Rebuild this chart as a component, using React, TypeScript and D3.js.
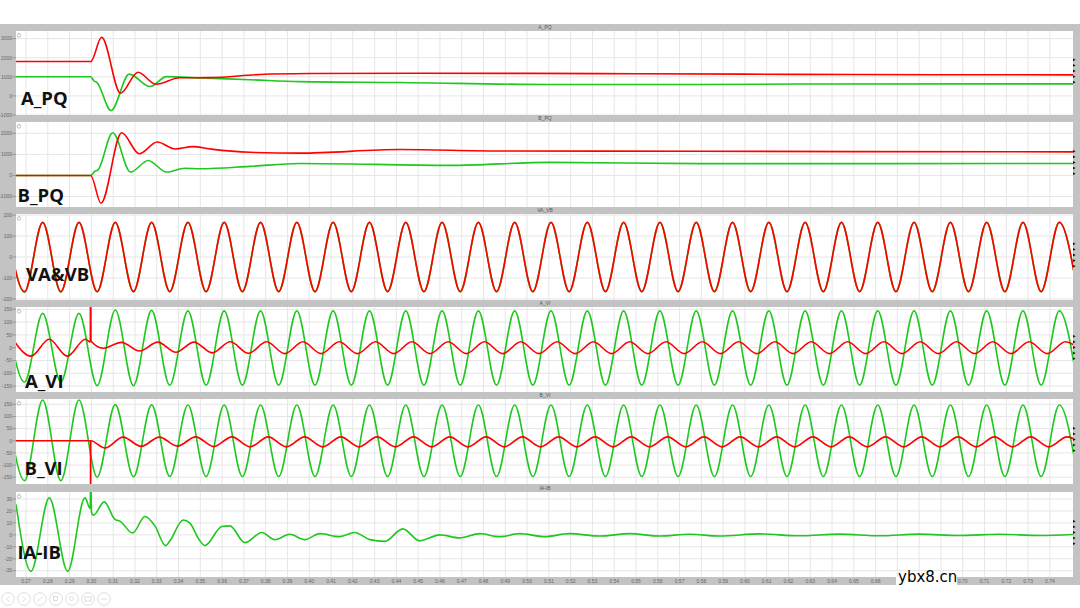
import React from "react";
import * as d3 from "d3";

type Pt = [number, number];

// ---------- axis data ----------
const xDomain: [number, number] = [0.2654, 0.7506];
const xTickValues = [
  0.27, 0.28, 0.29, 0.3, 0.31, 0.32, 0.33, 0.34, 0.35, 0.36, 0.37, 0.38, 0.39, 0.4, 0.41, 0.42,
  0.43, 0.44, 0.45, 0.46, 0.47, 0.48, 0.49, 0.5, 0.51, 0.52, 0.53, 0.54, 0.55, 0.56, 0.57, 0.58,
  0.59, 0.6, 0.61, 0.62, 0.63, 0.64, 0.65, 0.66, 0.67, 0.68, 0.69, 0.7, 0.71, 0.72, 0.73, 0.74,
];

const panelLabels = ["A_PQ", "B_PQ", "VA&VB", "A_VI", "B_VI", "IA-IB"];
const panelHeaders = ["A_PQ", "B_PQ", "VA_VB", "A_VI", "B_VI", "IA-IB"];

const yDomains: [number, number][] = [
  [-1000, 3400],
  [-1500, 2540],
  [-205, 205],
  [-173, 159],
  [-178, 172],
  [-35.3, 35.9],
];
const yTicks: number[][] = [
  [3000, 2000, 1000, 0, -1000],
  [2000, 1000, 0, -1000],
  [200, 100, 0, -100, -200],
  [150, 100, 50, 0, -50, -100, -150],
  [150, 100, 50, 0, -50, -100, -150],
  [30, 20, 10, 0, -10, -20, -30],
];

// ---------- series data (time s, value) ----------
const aPQRed: Pt[] = [
  [0.2654, 1800], [0.2997, 1800], [0.3047, 3070], [0.3134, 140], [0.3214, 1240], [0.3296, 610],
  [0.3406, 950], [0.3544, 960], [0.3774, 1120], [0.4, 1170], [0.45, 1190], [0.5, 1180],
  [0.55, 1160], [0.6, 1140], [0.65, 1120], [0.7, 1110], [0.7506, 1100],
];
const aPQGreen: Pt[] = [
  [0.2654, 1000], [0.2997, 1000], [0.3012, 790], [0.3026, 700], [0.309, -770], [0.3174, 1140],
  [0.3269, 490], [0.3345, 1010], [0.3498, 940], [0.3727, 850], [0.3957, 750], [0.4416, 700],
  [0.5104, 600], [0.5792, 600], [0.625, 620], [0.7506, 630],
];
const bPQRed: Pt[] = [
  [0.2654, 0], [0.2997, 0], [0.3044, -1320], [0.3139, 2030], [0.322, 1030], [0.3302, 1590],
  [0.3385, 1260], [0.3465, 1370], [0.355, 1250], [0.3727, 1100], [0.3957, 1060], [0.4416, 1230],
  [0.4874, 1160], [0.5792, 1150], [0.65, 1130], [0.7506, 1120],
];
const bPQGreen: Pt[] = [
  [0.2654, 0], [0.2997, 0], [0.3016, 200], [0.303, 260], [0.3098, 2030], [0.318, 160],
  [0.3261, 710], [0.3345, 160], [0.3429, 340], [0.3498, 320], [0.3727, 430], [0.3957, 570],
  [0.4645, 480], [0.5104, 620], [0.5792, 560], [0.7506, 570],
];

// half-cycle extrema (60 Hz): successive peak / trough values
const HALF = 1 / 120;
const vStart = 0.26098;
const vaExtrema = [
  165, -168, 165, -168, 165, -166, 165, -165, 165, -165, 165, -165, 165, -165, 165, -165, 165, -165, 165, -165,
  165, -165, 165, -165, 165, -165, 165, -165, 165, -165, 165, -165, 165, -165, 165, -165, 165, -165, 165, -165,
  165, -165, 165, -165, 165, -165, 165, -165, 165, -165, 165, -165, 165, -165, 165, -165, 165, -165, 165, -165,
];
const vbExtrema = [
  165, -165, 165, -165, 165, -165, 165, -165, 165, -165, 165, -165, 165, -165, 165, -165, 165, -165, 165, -165,
  165, -165, 165, -165, 165, -165, 165, -165, 165, -165, 165, -165, 165, -165, 165, -165, 165, -165, 165, -165,
  165, -165, 165, -165, 165, -165, 165, -165, 165, -165, 165, -165, 165, -165, 165, -165, 165, -165, 165, -165,
];
const aVExtrema = [
  134, -134, 134, -134, 134, -148, 147, -148, 146, -147, 144, -146, 144, -146, 144, -146, 144, -146, 144, -146,
  144, -146, 144, -146, 144, -146, 144, -146, 144, -146, 144, -146, 144, -146, 144, -146, 144, -146, 144, -146,
  144, -146, 144, -146, 144, -146, 144, -146, 144, -146, 144, -146, 144, -146, 144, -146, 144, -146, 144, -146,
];
const bVExtrema = [
  168, -164, 168, -164, 168, -150, 149, -148, 148, -147, 147, -147, 147, -147, 147, -147, 147, -147, 147, -147,
  147, -147, 147, -147, 147, -147, 147, -147, 147, -147, 147, -147, 147, -147, 147, -147, 147, -147, 147, -147,
  147, -147, 147, -147, 147, -147, 147, -147, 147, -147, 147, -147, 147, -147, 147, -147, 147, -147, 147, -147,
];
const aIPreStart = 0.26395;
const aIPre = [33, -33, 33, -33, 33];
const aIFault: Pt[] = [[0.2995, 22], [0.29965, 420], [0.2998, 26]];
const aIPostStart = 0.30545;
const aIPost = [
  -2, 21, -13, 22, -18, 22, -20, 23, -22, 23, -23, 23, -23, 23, -23, 23, -23, 23, -23, 23,
  -23, 23, -23, 23, -23, 23, -23, 23, -23, 23, -23, 23, -23, 23, -23, 23, -23, 23, -23, 23,
  -23, 23, -23, 23, -23, 23, -23, 23, -23, 23, -23, 23, -23, 23, -23,
];
const bIPre: Pt[] = [[0.2654, 0], [0.2996, 0], [0.29965, -420], [0.2997, 0]];
const bIPostStart = 0.3062;
const bIPost = [
  -30, 15, -23, 15, -22, 16, -24, 16, -25, 16, -25, 16, -25, 16, -25, 16, -25, 16, -25, 16,
  -25, 16, -25, 16, -25, 16, -25, 16, -25, 16, -25, 16, -25, 16, -25, 16, -25, 16, -25, 16,
  -25, 16, -25, 16, -25, 16, -25, 16, -25, 16, -25, 16, -25, 16, -25,
];
const iaMinusIb: Pt[] = [
  [0.2654, 25.5], [0.27228, -30.6], [0.28068, 31], [0.28912, -30.6], [0.29705, 31], [0.2995, 22],
  [0.29968, 60], [0.30005, 19], [0.3009, 16.5], [0.30591, 27.6], [0.31081, 13], [0.31311, 11.5],
  [0.31893, 1.5], [0.32458, 15.4], [0.32916, 7.5], [0.33407, -9], [0.33604, -5], [0.34214, 12.5],
  [0.34522, 9.8], [0.34981, -5], [0.3521, -9], [0.3599, 7], [0.36357, 7.5], [0.37045, -6.5],
  [0.37825, 2], [0.38421, -4], [0.39109, 0.5], [0.39797, -4], [0.40486, 1], [0.41403, -1.5],
  [0.42091, 2], [0.42779, -4], [0.43467, -5.5], [0.44293, 5], [0.45073, -5], [0.45991, 0],
  [0.46908, -2.5], [0.47826, 1], [0.48743, -1.5], [0.4966, 1], [0.50807, -1.5], [0.51954, 1],
  [0.5333, -1], [0.54706, 1], [0.56082, -1], [0.57458, 0.5], [0.58834, -1], [0.60669, 0.8],
  [0.62504, -0.8], [0.64339, 0.6], [0.66174, -0.8], [0.68008, 0.6], [0.69843, -0.6], [0.71678, 0.5],
  [0.73513, -0.5], [0.7506, 0.3],
];

const halfCycles = (t0: number, vals: number[]): Pt[] => vals.map((v, i) => [t0 + i * HALF, v]);

const RED = "#ff0000";
const GREEN = "#1ec81e";

const panelSeries: { color: string; data: Pt[] }[][] = [
  [{ color: GREEN, data: aPQGreen }, { color: RED, data: aPQRed }],
  [{ color: GREEN, data: bPQGreen }, { color: RED, data: bPQRed }],
  [{ color: GREEN, data: halfCycles(vStart, vaExtrema) }, { color: RED, data: halfCycles(vStart, vbExtrema) }],
  [
    { color: GREEN, data: halfCycles(vStart, aVExtrema) },
    { color: RED, data: [...halfCycles(aIPreStart, aIPre), ...aIFault, ...halfCycles(aIPostStart, aIPost)] },
  ],
  [
    { color: GREEN, data: halfCycles(vStart, bVExtrema) },
    { color: RED, data: [...bIPre, ...halfCycles(bIPostStart, bIPost)] },
  ],
  [{ color: GREEN, data: iaMinusIb }],
];

// ---------- layout ----------
const W = 1080;
const H = 608;
const PL = 16;
const PR = 1073;
const plotTop = [31, 122, 214, 307, 399, 492];
const plotBot = [115, 207, 300, 392, 484, 577];
const labelPos: [number, number][] = [
  [21, 105], [17.5, 201.7], [26, 281], [25, 388.3], [24.5, 475], [17.5, 559],
];
const WM_X0 = 896;
const WM_X1 = 957;

export default function App() {
  const x = d3.scaleLinear().domain(xDomain).range([PL, PR]);
  const fmtY = (v: number) => String(v);

  return (
    <div style={{ position: "absolute", left: 0, top: 0 }}>
      <svg width={W} height={H} style={{ display: "block", background: "#fff" }}>
        <defs>
          {plotTop.map((t, i) => (
            <clipPath id={`clip${i}`} key={i}>
              <rect x={PL} y={t} width={PR - PL} height={plotBot[i] - t} />
            </clipPath>
          ))}
        </defs>
        <rect x={0} y={24} width={W} height={561} fill="#c3c3c3" />
        {plotTop.map((top, i) => {
          const bot = plotBot[i];
          const y = d3.scaleLinear().domain(yDomains[i]).range([bot, top]);
          const line = d3
            .line<Pt>()
            .x((d) => x(d[0]))
            .y((d) => y(d[1]))
            .curve(d3.curveMonotoneX);
          const mid = (top + bot) / 2 - 2;
          return (
            <g key={i}>
              <rect x={PL} y={top} width={PR - PL} height={bot - top} fill="#ffffff" />
              <text
                x={545}
                y={top - 2}
                fontSize={5}
                fill="#555"
                textAnchor="middle"
                fontFamily="Liberation Sans, Arial, sans-serif"
              >
                {panelHeaders[i]}
              </text>
              <g clipPath={`url(#clip${i})`}>
                {xTickValues.map((t) => (
                  <line key={t} x1={x(t)} x2={x(t)} y1={top} y2={bot} stroke="#e6e6e6" strokeWidth={1} />
                ))}
                {yTicks[i].map((v) => (
                  <line key={v} x1={PL} x2={PR} y1={y(v)} y2={y(v)} stroke="#e6e6e6" strokeWidth={1} />
                ))}
              </g>
              {yTicks[i].map((v) => (
                <g key={v}>
                  <line x1={12.5} x2={16} y1={y(v)} y2={y(v)} stroke="#777" strokeWidth={0.6} />
                  <text
                    x={12}
                    y={y(v) + 1.8}
                    fontSize={5}
                    fill="#666"
                    textAnchor="end"
                    fontFamily="Liberation Sans, Arial, sans-serif"
                  >
                    {fmtY(v)}
                  </text>
                </g>
              ))}
              <circle cx={19} cy={top + 4.5} r={1.7} fill="none" stroke="#999" strokeWidth={0.6} />
              <line x1={19} x2={19} y1={top + 1.5} y2={top + 3} stroke="#999" strokeWidth={0.6} />
              <g clipPath={`url(#clip${i})`}>
                {panelSeries[i].map((s, k) => (
                  <path key={k} d={line(s.data) || ""} fill="none" stroke={s.color} strokeWidth={1.6} />
                ))}
              </g>
              {[-2, -1, 0, 1, 2].map((k) => (
                <path
                  key={k}
                  d={`M${PR},${mid + k * 5.6 - 1.4} L${PR + 2.6},${mid + k * 5.6} L${PR},${mid + k * 5.6 + 1.4} Z`}
                  fill="#111"
                />
              ))}
              <text
                x={labelPos[i][0]}
                y={labelPos[i][1]}
                fontSize={18.5}
                fontWeight={700}
                fill="#111"
                fontFamily="Open Sans, Liberation Sans, sans-serif"
              >
                {panelLabels[i]}
              </text>
            </g>
          );
        })}
        {xTickValues
          .filter((t) => x(t) < WM_X0 - 4 || x(t) > WM_X1 + 4)
          .map((t) => (
            <text
              key={t}
              x={x(t)}
              y={582.5}
              fontSize={5}
              fill="#666"
              textAnchor="middle"
              fontFamily="Liberation Sans, Arial, sans-serif"
            >
              {t.toFixed(2)}
            </text>
          ))}
        <rect x={WM_X0} y={577} width={WM_X1 - WM_X0} height={8} fill="#ffffff" />
        <text x={898} y={582} fontSize={15} fill="#000" fontFamily="DejaVu Sans, Verdana, sans-serif">
          ybx8.cn
        </text>
        {[8, 24, 40, 56, 72, 88, 104].map((cx, i) => (
          <g key={cx} stroke="#d4d4d4" fill="none" strokeWidth={0.8}>
            <circle cx={cx} cy={599} r={6.3} />
            {i === 0 && <path d={`M${cx + 1.5},${596} L${cx - 1.5},${599} L${cx + 1.5},${602}`} />}
            {i === 1 && <path d={`M${cx - 1.5},${596} L${cx + 1.5},${599} L${cx - 1.5},${602}`} />}
            {i === 2 && <path d={`M${cx - 2.5},${601.5} L${cx + 2.5},${596.5}`} />}
            {i === 3 && <rect x={cx - 2.5} y={596.5} width={4} height={4} />}
            {i === 4 && <circle cx={cx - 0.5} cy={598.5} r={2} />}
            {i === 5 && <rect x={cx - 3} y={597} width={6} height={4} />}
            {i === 6 && <path d={`M${cx - 3},${599} L${cx + 3},${599}`} />}
          </g>
        ))}
      </svg>
    </div>
  );
}
